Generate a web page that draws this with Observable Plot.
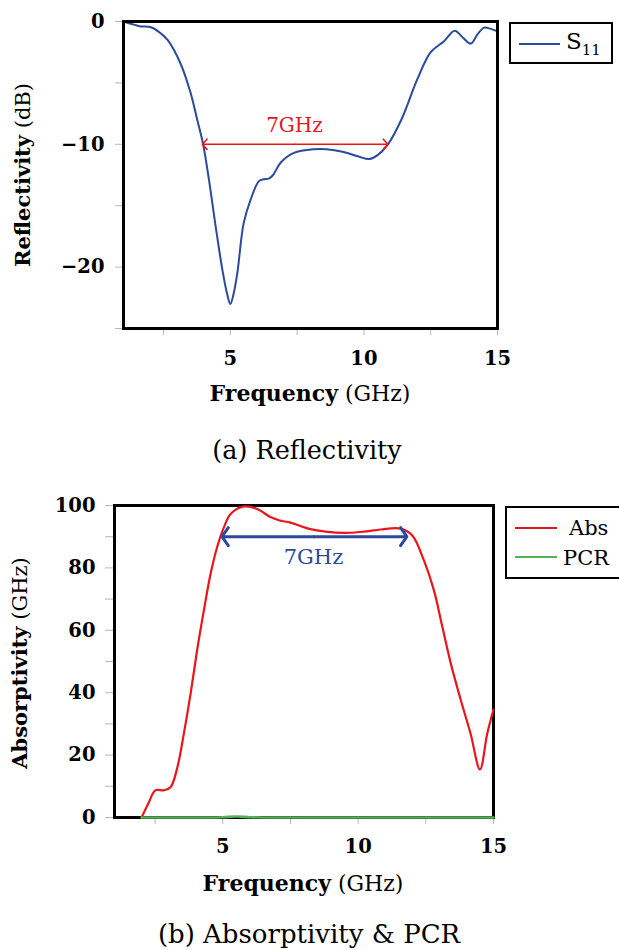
<!DOCTYPE html>
<html><head><meta charset="utf-8">
<script src="https://cdn.jsdelivr.net/npm/d3@7"></script>
<script src="https://cdn.jsdelivr.net/npm/@observablehq/plot@0.6"></script>
<style>
html,body{margin:0;padding:0;background:#fff;}
body{width:619px;height:950px;position:relative;overflow:hidden;font-family:"DejaVu Serif",serif;color:#000;}
.abs{position:absolute;}
.c{position:absolute;white-space:nowrap;transform:translate(-50%,-50%);line-height:1;}
.r{position:absolute;white-space:nowrap;transform:translate(-50%,-50%) rotate(-90deg);line-height:1;}
.legend{position:absolute;border:2.5px solid #000;box-sizing:border-box;background:#fff;}
.swatch{position:absolute;height:2.2px;}
.ltext{position:absolute;white-space:nowrap;line-height:1;transform:translateY(-50%);}
</style></head><body>
<div id="p1" class="abs" style="left:0;top:0"></div>
<div id="p2" class="abs" style="left:0;top:480px"></div>

<div class="r" style="left:23px;top:175px;font-size:21px"><b>Reflectivity</b> (dB)</div>
<div class="c" style="left:310px;top:393px;font-size:22px"><b>Frequency</b> (GHz)</div>
<div class="c" style="left:307px;top:451px;font-size:25.5px">(a) Reflectivity</div>

<div class="r" style="left:20px;top:663px;font-size:21px"><b>Absorptivity</b> (GHz)</div>
<div class="c" style="left:303px;top:883px;font-size:22px"><b>Frequency</b> (GHz)</div>
<div class="c" style="left:309px;top:934px;font-size:26px">(b) Absorptivity &amp; PCR</div>

<div class="legend" style="left:509px;top:22px;width:104px;height:42px">
  <div class="swatch" id="sw1" style="left:8px;top:19px;width:41px"></div>
  <div class="ltext" style="left:55px;top:20px;font-size:23px">S<sub style="font-size:15px">11</sub></div>
</div>
<div class="legend" style="left:505px;top:506px;width:130px;height:73px">
  <div class="swatch" id="sw2" style="left:8px;top:19px;width:42px"></div>
  <div class="ltext" style="left:62px;top:20px;font-size:21px">Abs</div>
  <div class="swatch" id="sw3" style="left:8px;top:48px;width:42px"></div>
  <div class="ltext" style="left:56px;top:50px;font-size:21px">PCR</div>
</div>

<script>
// ---- data ----
const s11Freq = [1.0, 1.3, 1.64, 2.0, 2.3, 2.65, 3.13, 3.51, 3.76, 3.98, 4.2, 4.45, 4.7, 4.88, 5.0, 5.12, 5.26, 5.5, 5.76, 6.07, 6.25, 6.44, 6.6, 6.88, 7.38, 8.13, 8.6, 9.2, 9.8, 10.2, 10.5, 10.9, 11.4, 12.0, 12.5, 13.0, 13.4, 13.7, 14.0, 14.25, 14.5, 14.75, 15.0];
const s11Values = [0, -0.2, -0.4, -0.45, -0.8, -1.5, -3.4, -5.8, -8.0, -10.0, -12.9, -16.7, -20.2, -22.2, -23.0, -22.2, -20.5, -16.4, -14.5, -13.0, -12.85, -12.8, -12.5, -11.5, -10.7, -10.4, -10.4, -10.6, -11.0, -11.2, -10.9, -10.0, -8.0, -4.7, -2.5, -1.6, -0.75, -1.3, -1.8, -1.05, -0.5, -0.6, -0.8];

const absFreq = [2.0, 2.25, 2.51, 2.82, 3.07, 3.32, 3.56, 3.81, 4.05, 4.3, 4.55, 4.79, 5.04, 5.29, 5.78, 6.27, 6.76, 7.1, 7.5, 8.2, 8.8, 9.5, 10.2, 10.83, 11.57, 12.0, 12.43, 12.8, 13.1, 13.41, 13.78, 14.15, 14.5, 14.77, 15.0];
const absValues = [0, 4.5, 8.7, 8.7, 9.7, 16, 26.8, 39.6, 53.5, 66.3, 78.1, 86.6, 93.0, 97.3, 99.7, 98.9, 96.3, 95.2, 94.5, 92.5, 91.6, 91.2, 91.6, 92.3, 92.6, 90.4, 82.4, 72.8, 61.5, 49.8, 38.0, 27.0, 15.4, 26.9, 34.6];

const pcrFreq = [2.0, 4.5, 5.0, 5.5, 6.0, 6.5, 10.0, 15.0];
const pcrValues = [0, 0, 0.1, 0.3, 0.1, 0, 0, 0];

const xDomain = [1, 15];
const xTicks = [5, 10, 15];
const xMinorTicks = [2.5, 7.5, 12.5];
const s11Domain = [-25, 0];
const s11Ticks = [-20, -10, 0];
const s11MinorTicks = [-25, -15, -5];
const absDomain = [0, 100];
const absTicks = [0, 20, 40, 60, 80, 100];
const absMinorTicks = [10, 30, 50, 70, 90];

const s11Band = [3.95, 10.9];   // GHz
const s11BandLevel = -10;        // dB
const s11BandLabel = ["7GHz", 7.4, -8.5];
const absBand = [4.97, 11.8];
const absBandLevel = 90;
const absBandLabel = ["7GHz", 8.35, 83.3];

const colS11 = "#2b4a9c", colAbs = "#e8161c", colPcr = "#55b155", colBand1 = "#e8161c", colBand2 = "#2b4a9c";

const toRows = (xs, ys) => xs.map((x, i) => ({x, y: ys[i]}));
const minus = d => d < 0 ? "\u2212" + (-d) : String(d);
const bandArrows = (band, level) => {
  const m = (band[0] + band[1]) / 2;
  return [{x1: m, x2: band[0], y: level}, {x1: m, x2: band[1], y: level}];
};
const baseStyle = {fontFamily: "DejaVu Serif", fontSize: "19.5px", fontWeight: "bold", color: "black", background: "white", overflow: "visible"};

const p1 = Plot.plot({
  width: 619, height: 420,
  marginLeft: 123, marginRight: 122, marginTop: 21, marginBottom: 92,
  x: {domain: xDomain, label: null},
  y: {domain: s11Domain, label: null},
  style: baseStyle,
  marks: [
    Plot.axisX({ticks: xMinorTicks, tickSize: 7, tickFormat: () => "", stroke: "#b8b8b8", label: null}),
    Plot.axisX({ticks: xTicks, tickSize: 7, tickPadding: 16, stroke: "#b8b8b8", fill: "black", label: null}),
    Plot.axisY({ticks: s11MinorTicks, tickSize: 8, tickFormat: () => "", stroke: "#b8b8b8", label: null}),
    Plot.axisY({ticks: s11Ticks, tickSize: 8, tickPadding: 11, tickFormat: minus, stroke: "#b8b8b8", fill: "black", label: null}),
    Plot.line(toRows(s11Freq, s11Values), {x: "x", y: "y", stroke: colS11, strokeWidth: 2, curve: "catmull-rom"}),
    Plot.arrow(bandArrows(s11Band, s11BandLevel), {x1: "x1", x2: "x2", y1: "y", y2: "y", stroke: colBand1, strokeWidth: 1.6, headLength: 6.5, headAngle: 95}),
    Plot.text([s11BandLabel], {x: d => d[1], y: d => d[2], text: d => d[0], fill: colBand1, fontWeight: "normal", fontSize: 20}),
    Plot.frame({stroke: "black", strokeWidth: 3})
  ]
});
document.getElementById("p1").appendChild(p1);

const p2 = Plot.plot({
  width: 619, height: 420,
  marginLeft: 114, marginRight: 126, marginTop: 25, marginBottom: 83,
  x: {domain: xDomain, label: null},
  y: {domain: absDomain, label: null},
  style: baseStyle,
  marks: [
    Plot.axisX({ticks: xMinorTicks, tickSize: 7, tickFormat: () => "", stroke: "#b8b8b8", label: null}),
    Plot.axisX({ticks: xTicks, tickSize: 7, tickPadding: 15, stroke: "#b8b8b8", fill: "black", label: null}),
    Plot.axisY({ticks: absMinorTicks, tickSize: 9, tickFormat: () => "", stroke: "#b8b8b8", label: null}),
    Plot.axisY({ticks: absTicks, tickSize: 9, tickPadding: 10, stroke: "#b8b8b8", fill: "black", label: null}),
    Plot.frame({stroke: "black", strokeWidth: 3}),
    Plot.line(toRows(absFreq, absValues), {x: "x", y: "y", stroke: colAbs, strokeWidth: 2.2, curve: "catmull-rom"}),
    Plot.line(toRows(pcrFreq, pcrValues), {x: "x", y: "y", stroke: colPcr, strokeWidth: 2.6, curve: "catmull-rom"}),
    Plot.arrow(bandArrows(absBand, absBandLevel), {x1: "x1", x2: "x2", y1: "y", y2: "y", stroke: colBand2, strokeWidth: 3, headLength: 5.5, headAngle: 110}),
    Plot.text([absBandLabel], {x: d => d[1], y: d => d[2], text: d => d[0], fill: colBand2, fontWeight: "normal", fontSize: 21})
  ]
});
document.getElementById("p2").appendChild(p2);

document.getElementById("sw1").style.background = colS11;
document.getElementById("sw2").style.background = colAbs;
document.getElementById("sw3").style.background = colPcr;
</script>
</body></html>
